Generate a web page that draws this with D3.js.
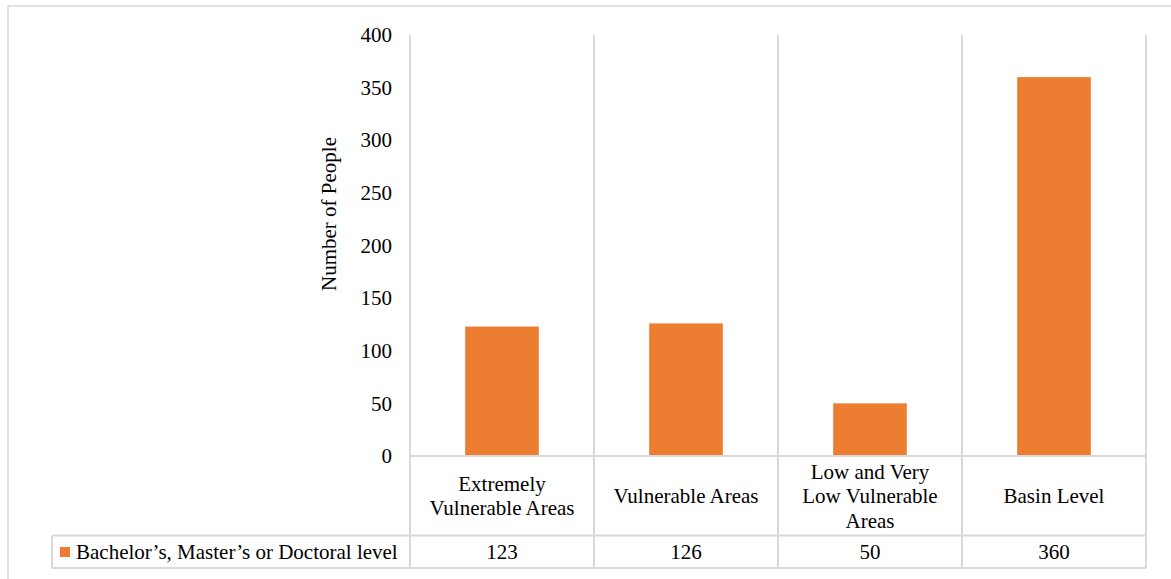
<!DOCTYPE html>
<html><head><meta charset="utf-8">
<script src="https://cdn.jsdelivr.net/npm/d3@7"></script>
<style>body{margin:0;background:#fff}svg{display:block}</style>
</head><body><svg id="c" width="1171" height="579"></svg>
<script>
const categories = [["Extremely","Vulnerable Areas"],["Vulnerable Areas"],["Low and Very","Low Vulnerable","Areas"],["Basin Level"]];
const values = [123,126,50,360];
const seriesName = "Bachelor\u2019s, Master\u2019s or Doctoral level";
const yTicks = [0,50,100,150,200,250,300,350,400];
const yTitle = "Number of People";

const FF = "'Liberation Serif', 'Times New Roman', Times, 'DejaVu Serif', serif";
const FS = "21px";
const svg = d3.select("#c");
const grid = "#d9d9d9";
const L=410, R=1146, T=35, B=456, row1=535.5, row2=568, legL=52;
svg.append("rect").attr("x",8).attr("y",6).attr("width",1200).attr("height",600).attr("fill","none").attr("stroke",grid).attr("stroke-width",1.5);

const x = d3.scaleBand().domain(d3.range(values.length)).range([L,R]).paddingInner(0).paddingOuter(0);
const y = d3.scaleLinear().domain([0,400]).range([B,T]);

const edges = d3.range(values.length+1).map(i=> i<values.length? x(i): x(values.length-1)+x.bandwidth());
svg.selectAll(".vg").data(edges).enter().append("line")
 .attr("x1",d=>d).attr("x2",d=>d).attr("y1",T).attr("y2",row2)
 .attr("stroke",grid).attr("stroke-width",2);

const bw = x.bandwidth()*0.4;
svg.selectAll(".bar").data(values).enter().append("rect")
 .attr("x",(d,i)=>x(i)+(x.bandwidth()-bw)/2).attr("width",bw)
 .attr("y",d=>y(d)).attr("height",d=>y(0)-y(d)).attr("fill","#ED7D31");

svg.append("line").attr("x1",L).attr("x2",R).attr("y1",B).attr("y2",B).attr("stroke",grid).attr("stroke-width",2);
svg.append("line").attr("x1",legL).attr("x2",R).attr("y1",row1).attr("y2",row1).attr("stroke",grid).attr("stroke-width",2);
svg.append("line").attr("x1",legL).attr("x2",R).attr("y1",row2).attr("y2",row2).attr("stroke",grid).attr("stroke-width",2);
svg.append("line").attr("x1",legL).attr("x2",legL).attr("y1",row1).attr("y2",row2).attr("stroke",grid).attr("stroke-width",2);

const yAxis = d3.axisLeft(y).tickValues(yTicks).tickSize(0).tickPadding(18);
const ga = svg.append("g").attr("transform",`translate(${L},0)`).call(yAxis);
ga.attr("font-family",null).attr("font-size",null);
ga.select(".domain").remove();
ga.selectAll("text").style("font-family",FF).style("font-size",FS).attr("fill","#000");

svg.append("text").attr("transform",`translate(336,214) rotate(-90)`).attr("text-anchor","middle")
 .style("font-family",FF).style("font-size",FS).text(yTitle);

categories.forEach((lines,i)=>{
  const cx = x(i)+x.bandwidth()/2, cy=(B+row1)/2;
  const lh=24.5, start=cy-(lines.length-1)*lh/2;
  const t = svg.append("text").attr("text-anchor","middle").style("font-family",FF).style("font-size",FS);
  lines.forEach((s,j)=>t.append("tspan").attr("x",cx).attr("y",start+j*lh).attr("dy","0.35em").text(s));
});

svg.selectAll(".val").data(values).enter().append("text")
 .attr("x",(d,i)=>x(i)+x.bandwidth()/2).attr("y",(row1+row2)/2).attr("dy","0.35em")
 .attr("text-anchor","middle").style("font-family",FF).style("font-size",FS).text(d=>d);

svg.append("rect").attr("x",60).attr("y",547).attr("width",10).attr("height",10).attr("fill","#ED7D31");
svg.append("text").attr("x",76).attr("y",(row1+row2)/2).attr("dy","0.35em").style("font-family",FF).style("font-size",FS).text(seriesName);
</script></body></html>
